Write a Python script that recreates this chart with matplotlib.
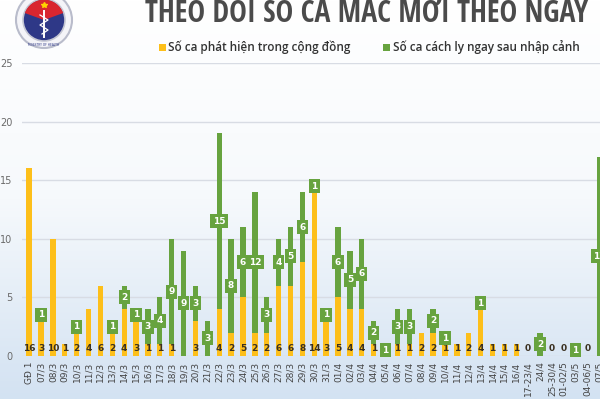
import numpy as np
import matplotlib
matplotlib.use('Agg')
import matplotlib.pyplot as plt
from matplotlib import font_manager as fm
from matplotlib.colors import LinearSegmentedColormap
from matplotlib.patches import Circle, Rectangle, Wedge

categories = ["GĐ 1", "07/3", "08/3", "09/3", "10/3", "11/3", "12/3", "13/3", "14/3",
              "15/3", "16/3", "17/3", "18/3", "19/3", "20/3", "21/3", "22/3", "23/3",
              "24/3", "25/3", "26/3", "27/3", "28/3", "29/3", "30/3", "31/3", "01/4",
              "02/4", "03/4", "04/4", "05/4", "06/4", "07/4", "08/4", "09/4", "10/4",
              "11/4", "12/4", "13/4", "14/4", "15/4", "16/4", "17-23/4", "24/4",
              "25-30/4", "01-02/5", "03/5", "04-06/5", "07/5"]
community = [16, 3, 10, 1, 2, 4, 6, 2, 4, 3, 1, 1, 1, 0, 3, 0, 4, 2, 5, 2, 2, 6, 6, 8, 14,
             3, 5, 4, 4, 1, 0, 1, 1, 2, 2, 1, 1, 2, 4, 1, 1, 1, 0, 0, 0, 0, 0, 0, 0]
quarantine = [0, 1, 0, 0, 1, 0, 0, 1, 2, 1, 3, 4, 9, 9, 3, 3, 15, 8, 6, 12, 3, 4, 5, 6, 1,
              1, 6, 5, 6, 2, 1, 3, 3, 0, 2, 1, 0, 0, 1, 0, 0, 0, 0, 2, 0, 0, 1, 0, 17]

legend_labels = ["Số ca phát hiện trong cộng đồng", "Số ca cách ly ngay sau nhập cảnh"]
title = "THEO DÕI SỐ CA MẮC MỚI THEO NGÀY"

YELLOW = "#FDBF1A"
GREEN = "#67A33F"


def pick(cands):
    for c in cands:
        try:
            fm.findfont(fm.FontProperties(family=c), fallback_to_default=False)
            return c
        except Exception:
            pass
    return "DejaVu Sans"


TITLE_FONT = pick(["Open Sans Condensed", "Roboto Condensed", "Fira Sans Condensed",
                   "PT Sans Narrow", "Liberation Sans Narrow", "Open Sans"])
TEXT_FONT = pick(["Open Sans", "Noto Sans", "DejaVu Sans"])

W, H = 600, 399
fig = plt.figure(figsize=(W / 100, H / 100), dpi=100)

# background gradient + emblem layer (pixel coordinates)
bg = fig.add_axes([0, 0, 1, 1], zorder=-10)
cmap = LinearSegmentedColormap.from_list("bg", ["#ffffff", "#f6f9fc", "#d3e2f2"])
grad = np.linspace(0, 1, 256).reshape(-1, 1)
bg.imshow(grad, aspect="auto", cmap=cmap, extent=[0, W, H, 0])
bg.set_xlim(0, W)
bg.set_ylim(H, 0)
bg.axis("off")

cx, cy = 44, 20
bg.add_patch(Circle((cx, cy), 28, fc="#f4f4f8", ec="#b9bccb", lw=1.5))
bg.add_patch(Circle((cx, cy), 21, fc="#2e3887", ec="#c4c6d3", lw=1.2))
bg.add_patch(Wedge((cx, cy), 20.4, 200, 340, fc="#d9262f", ec="none"))
bg.plot([cx], [cy - 15], marker="*", color="#ffd200", ms=4)
bg.plot([cx, cx], [cy - 9, cy + 17], color="white", lw=1.4)
bg.plot([cx - 4, cx + 4, cx - 4, cx + 4, cx - 2], [cy - 5, cy, cy + 5, cy + 10, cy + 14],
        color="white", lw=0.9)
bg.text(cx, cy + 24.5, "MINISTRY OF HEALTH", fontsize=2.2, color="#2e3887",
        ha="center", va="center")

# main axes
ax = fig.add_axes([22 / W, (H - 356) / H, (W - 22) / W, 293 / H])
ax.patch.set_alpha(0)
x = np.arange(len(categories))
ax.bar(x, community, width=0.45, color=YELLOW, zorder=2)
ax.bar(x, quarantine, bottom=community, width=0.45, color=GREEN, zorder=2)

for i, (c, q) in enumerate(zip(community, quarantine)):
    if c > 0 or q == 0:
        ax.text(i, 0.65, str(c), ha="center", va="center", fontsize=6.5,
                fontweight="bold", color="#3a3020", zorder=4)
    if q > 0:
        ax.text(i, c + q / 2, str(q), ha="center", va="center", fontsize=6.5,
                fontweight="bold", color="white", zorder=5,
                bbox=dict(boxstyle="square,pad=0.28", fc=GREEN, ec="none"))

ax.set_xlim(-0.6, 48.05)
ax.set_ylim(0, 25)
ax.set_yticks([0, 5, 10, 15, 20, 25])
ax.yaxis.grid(True, color="#d8dce4", lw=1)
ax.set_axisbelow(True)
for s in ax.spines.values():
    s.set_visible(False)
ax.set_xticks(x)
ax.set_xticklabels(categories, rotation=90, fontsize=6.5, color="#444444")
ax.tick_params(axis="x", length=0, pad=4)
ax.tick_params(axis="y", length=0, pad=7, labelsize=7, labelcolor="#6a6a6a")

# title
t_title = fig.text(145 / W, 1 - 14 / H, title, ha="left", va="center", fontsize=18,
                   fontweight="bold", color="#4b4b4b", family=[TITLE_FONT, "DejaVu Sans"])

# legend
ly = 1 - 47 / H
fig.patches.append(Rectangle((159 / W, ly - 3.5 / H), 7 / W, 7 / H, fc=YELLOW, ec="none",
                             transform=fig.transFigure, figure=fig))
t_l1 = fig.text(168 / W, ly, legend_labels[0], ha="left", va="center", fontsize=8.5,
                color="#333333", fontweight="semibold", family=[TEXT_FONT, "DejaVu Sans"])
fig.patches.append(Rectangle((383 / W, ly - 3.5 / H), 7 / W, 7 / H, fc=GREEN, ec="none",
                             transform=fig.transFigure, figure=fig))
t_l2 = fig.text(393 / W, ly, legend_labels[1], ha="left", va="center", fontsize=8.5,
                color="#333333", fontweight="semibold", family=[TEXT_FONT, "DejaVu Sans"])

# fit texts to the widths seen in the reference
renderer = fig.canvas.get_renderer()
for t, target in [(t_title, 442), (t_l1, 183), (t_l2, 186)]:
    for _ in range(2):
        w = t.get_window_extent(renderer).width
        t.set_fontsize(t.get_fontsize() * target / w)

fig.savefig("out.png", dpi=100)
